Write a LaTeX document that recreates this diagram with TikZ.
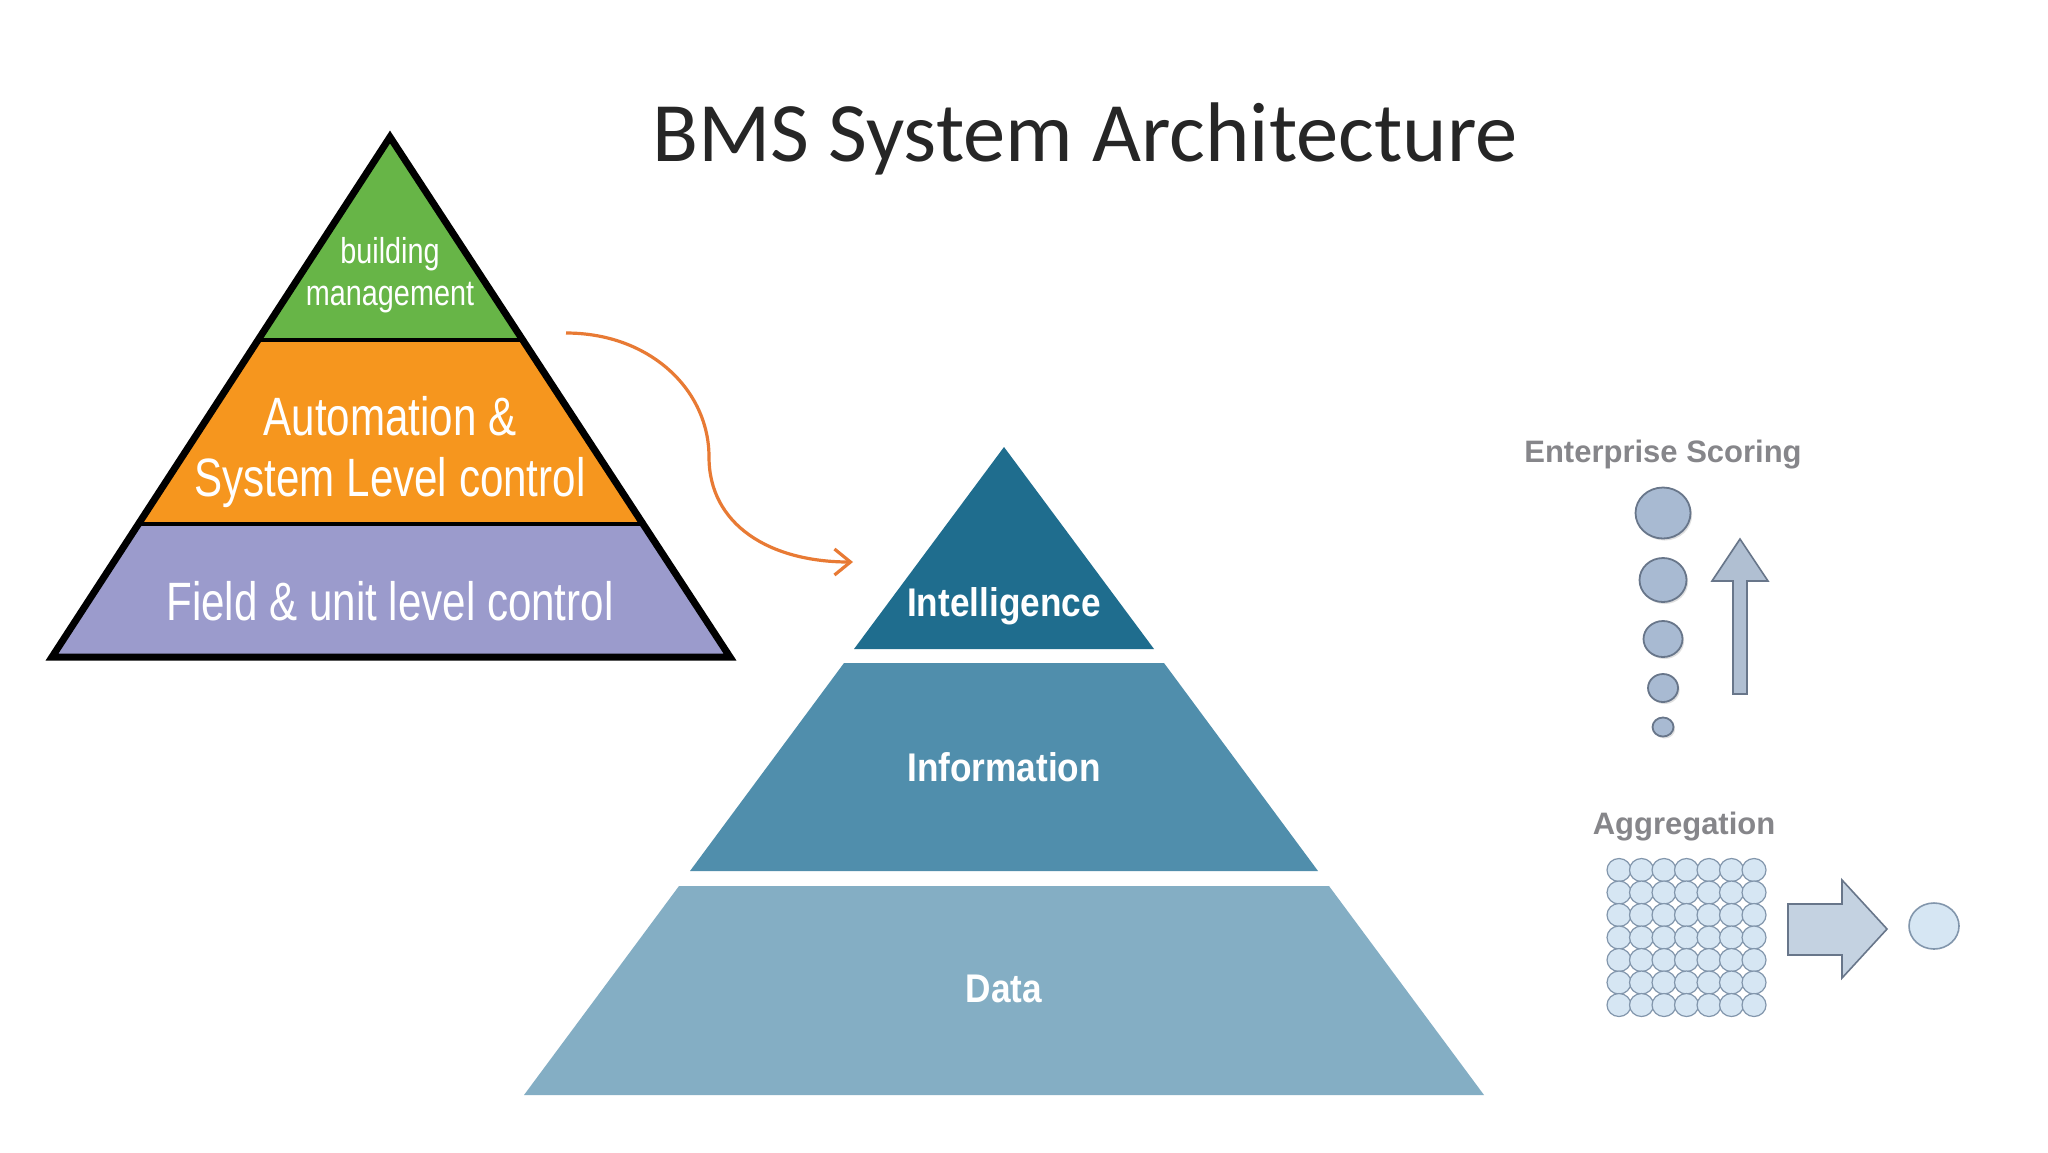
\documentclass[tikz,border=0pt]{standalone}
\usepackage{fontspec}
\setmainfont{Liberation Sans}
\newfontfamily\titlefont{Carlito}
\usetikzlibrary{arrows.meta,shadows}

\definecolor{bmsgreen}{RGB}{103,181,71}
\definecolor{bmsorange}{RGB}{246,150,30}
\definecolor{bmspurple}{RGB}{155,155,204}
\definecolor{pyrdark}{RGB}{31,109,142}
\definecolor{pyrmid}{RGB}{80,142,172}
\definecolor{pyrlight}{RGB}{132,174,196}
\definecolor{curveorange}{RGB}{232,122,52}
\definecolor{dotfill}{RGB}{168,186,210}
\definecolor{dotline}{RGB}{104,118,138}
\definecolor{gridfill}{RGB}{214,230,243}
\definecolor{gridline}{RGB}{130,150,172}
\definecolor{arrowfill}{RGB}{176,191,210}
\definecolor{arrowlight}{RGB}{196,210,225}
\definecolor{labelgray}{RGB}{134,134,138}

\begin{document}
\begin{tikzpicture}[x=0.5pt,y=-0.5pt,
	layerline/.style={line width=2pt},
	whitelabel/.style={text=white,align=center,inner sep=0pt},
	pyrlabel/.style={text=white,inner sep=0pt,xscale=0.88,font=\fontsize{20}{24}\selectfont\bfseries},
	sidelabel/.style={text=labelgray,inner sep=0pt,font=\fontsize{15.5}{18}\selectfont\bfseries},
	scoredot/.style={fill=dotfill,draw=dotline,line width=0.9pt,drop shadow={shadow xshift=0.8pt,shadow yshift=-1pt,opacity=0.25}},
	griddot/.style={fill=gridfill,draw=gridline,line width=0.6pt},
	greyarrow/.style={fill=arrowfill,draw=dotline,line width=0.8pt,line join=miter}
]
\useasboundingbox (0,0) rectangle (2048,1152);
\fill[white] (0,0) rectangle (2048,1152);

% title
\node[font=\titlefont\fontsize{42.3}{50}\selectfont,text=black!85] (title) at (1085,139) {BMS System Architecture};

% left pyramid
\fill[bmsgreen] (390,137) -- (522,340) -- (258,340) -- cycle;
\fill[bmsorange] (258,340) -- (522,340) -- (642,524) -- (138,524) -- cycle;
\fill[bmspurple] (138,524) -- (642,524) -- (730,657) -- (52,657) -- cycle;
\draw[layerline] (258,340) -- (522,340);
\draw[layerline] (138,524) -- (642,524);
\draw[line width=3.5pt,line join=miter] (390,137) -- (730,657) -- (52,657) -- cycle;

\node[whitelabel,xscale=0.8,font=\fontsize{18}{21}\selectfont] (bmstop) at (390,275) {building\\management};
\node[whitelabel,xscale=0.78,font=\fontsize{27}{30.5}\selectfont] (bmsmid) at (390,452) {Automation \&\\System Level control};
\node[whitelabel,xscale=0.78,font=\fontsize{27}{30.5}\selectfont] (bmsbottom) at (390,601) {Field \& unit level control};

% right pyramid
\fill[pyrdark] (1004,447) -- (1154,649) -- (854,649) -- cycle;
\fill[pyrmid] (844,663) -- (1164,663) -- (1318,871) -- (690,871) -- cycle;
\fill[pyrlight] (679,886) -- (1329,886) -- (1484,1095) -- (524,1095) -- cycle;

\node[pyrlabel] (intel) at (1004,606) {Intelligence};
\node[pyrlabel] (info) at (1004,767) {Information};
\node[pyrlabel] (data) at (1004,989) {Data};

% curved arrow between the pyramids
\coordinate (arrowstart) at (566,333);
\coordinate (arrowend) at (853,562);
\draw[curveorange,line width=1.6pt,-{Straight Barb[length=8pt,width=13pt,line width=1.6pt]}]
	(arrowstart) .. controls (650,333) and (709,390) .. (709,457)
	.. controls (709,525) and (770,562) .. (arrowend);

% enterprise scoring
\node[sidelabel] (scoring) at (1663,455) {Enterprise Scoring};
\draw[scoredot] (1663,513) ellipse[x radius=27.5,y radius=25.5];
\draw[scoredot] (1663,580) ellipse[x radius=23.5,y radius=22];
\draw[scoredot] (1663,639) ellipse[x radius=19.5,y radius=18];
\draw[scoredot] (1663,688) ellipse[x radius=15,y radius=14];
\draw[scoredot] (1663,727) ellipse[x radius=10.5,y radius=9.5];
\draw[greyarrow] (1733,694) -- (1733,581) -- (1712,581) -- (1740,539) -- (1768,581) -- (1747,581) -- (1747,694) -- cycle;

% aggregation
\node[sidelabel] (aggregation) at (1684,827) {Aggregation};
\foreach \i in {0,...,6}{
	\foreach \j in {0,...,6}{
		\draw[griddot] ({1619+\i*22.5},{870+\j*22.5}) ellipse[x radius=12,y radius=11.5];
	}
}
\draw[greyarrow,fill=arrowlight] (1788,904) -- (1842,904) -- (1842,880) -- (1887,929) -- (1842,978) -- (1842,955) -- (1788,955) -- cycle;
\draw[griddot,line width=0.8pt] (1934,926) ellipse[x radius=25,y radius=23];

\end{tikzpicture}
\end{document}
